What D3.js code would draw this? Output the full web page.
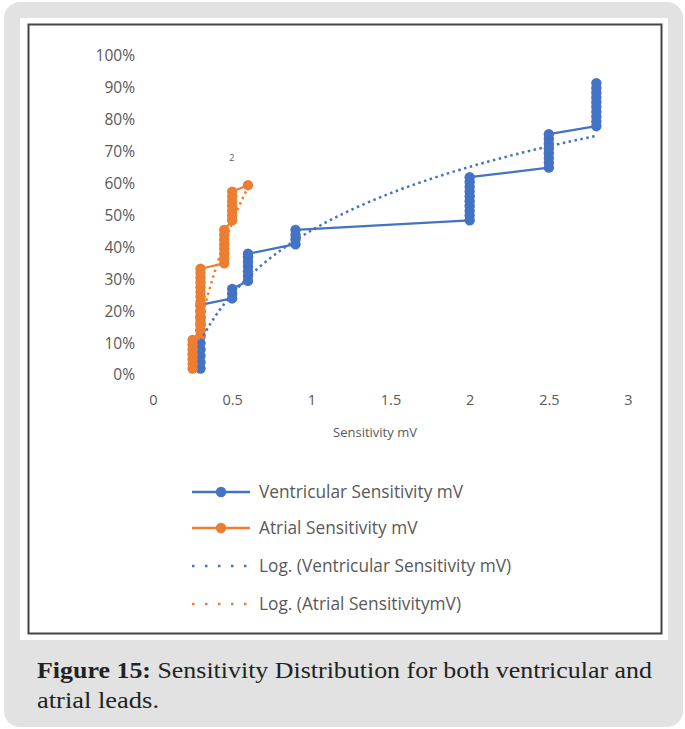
<!DOCTYPE html>
<html><head><meta charset="utf-8">
<script src="https://cdn.jsdelivr.net/npm/d3@7"></script>
<style>
html,body{margin:0;padding:0;background:#fff;}
svg{display:block;}
</style></head>
<body>
<script>
// ---- data ----
const ventX = [0.3,0.3,0.3,0.3,0.3,0.3,0.3,0.3,0.3,0.3,0.3,
               0.5,0.5,0.5,
               0.6,0.6,0.6,0.6,0.6,0.6,0.6,
               0.9,0.9,0.9,0.9,
               2,2,2,2,2,2,2,2,2,2,
               2.5,2.5,2.5,2.5,2.5,2.5,2.5,2.5,
               2.8,2.8,2.8,2.8,2.8,2.8,2.8,2.8,2.8,2.8];
const ventY = [0.02,0.04,0.06,0.08,0.10,0.12,0.14,0.16,0.18,0.20,0.22,
               0.24,0.255,0.27,
               0.295,0.31,0.325,0.34,0.355,0.37,0.38,
               0.41,0.425,0.44,0.455,
               0.485,0.50,0.515,0.53,0.545,0.56,0.575,0.59,0.605,0.62,
               0.65,0.665,0.68,0.695,0.71,0.725,0.74,0.755,
               0.78,0.795,0.81,0.825,0.84,0.855,0.87,0.885,0.90,0.915];
const atrX = [0.25,0.25,0.25,0.25,0.25,0.25,0.25,
              0.3,0.3,0.3,0.3,0.3,0.3,0.3,0.3,0.3,0.3,0.3,0.3,0.3,0.3,0.3,
              0.45,0.45,0.45,0.45,0.45,0.45,0.45,0.45,
              0.5,0.5,0.5,0.5,0.5,0.5,0.5,
              0.6];
const atrY = [0.02,0.035,0.05,0.065,0.08,0.095,0.11,
              0.125,0.14,0.155,0.17,0.185,0.20,0.215,0.23,0.245,0.26,0.275,0.29,0.305,0.32,0.333,
              0.35,0.365,0.38,0.395,0.41,0.425,0.44,0.455,
              0.485,0.50,0.515,0.53,0.545,0.56,0.575,
              0.595];
// logarithmic trendline coefficients: y = a*ln(x) + b
const ventLog = {a:0.288, b:0.453, from:0.3, to:2.8};
const atrLog  = {a:0.617, b:0.905, from:0.25, to:0.6};
const xTicks = [0,0.5,1,1.5,2,2.5,3];
const yTicks = [0,0.1,0.2,0.3,0.4,0.5,0.6,0.7,0.8,0.9,1];
const legendLabels = ["Ventricular Sensitivity mV","Atrial Sensitivity mV",
  "Log. (Ventricular Sensitivity mV)","Log. (Atrial SensitivitymV)"];
const xTitle = "Sensitivity mV";
const dataLabel = "2";
const captionBold = "Figure 15:";
const captionLines = [" Sensitivity Distribution for both ventricular and","atrial leads."];

const BLUE="#4472C4", ORANGE="#ED7D31", GREY="#595959";
const W=685,H=729;
const svg=d3.select("body").append("svg").attr("width",W).attr("height",H);

// background card
svg.append("rect").attr("x",4).attr("y",2).attr("width",679).attr("height",725)
  .attr("rx",16).attr("fill","#e2e2e2");
svg.append("rect").attr("x",20).attr("y",18).attr("width",648).attr("height",622).attr("fill","#fff");
svg.append("rect").attr("x",28.5).attr("y",24.5).attr("width",633).attr("height",609)
  .attr("fill","none").attr("stroke","#444").attr("stroke-width",2);

const x=d3.scaleLinear().domain([0,3]).range([153,628]);
const y=d3.scaleLinear().domain([0,1]).range([375,56]);
const font="'Open Sans', Lato, sans-serif";

// axes (no lines, labels only)
const yAxis=d3.axisLeft(y).tickValues(yTicks).tickFormat(d3.format(".0%")).tickSize(0).tickPadding(0);
const gy=svg.append("g").attr("transform","translate(135,0)").call(yAxis);
gy.select(".domain").remove();
gy.selectAll("text").attr("font-family",font).attr("font-size",15.5).attr("fill",GREY);
const xAxis=d3.axisBottom(x).tickValues(xTicks).tickFormat(d=>String(d)).tickSize(0).tickPadding(0);
const gx=svg.append("g").attr("transform","translate(0,395)").call(xAxis);
gx.select(".domain").remove();
gx.selectAll("text").attr("font-family",font).attr("font-size",14.5).attr("fill",GREY);

svg.append("text").attr("x",375).attr("y",437).attr("text-anchor","middle")
  .attr("font-family",font).attr("font-size",13).attr("fill",GREY).text(xTitle);

const line=d3.line().x(d=>x(d[0])).y(d=>y(d[1]));
function series(xs,ys,color){
  const pts=xs.map((v,i)=>[v,ys[i]]);
  svg.append("path").datum(pts).attr("d",line).attr("fill","none")
    .attr("stroke",color).attr("stroke-width",2.25).attr("stroke-linejoin","round");
  svg.append("g").selectAll("circle").data(pts).join("circle")
    .attr("cx",d=>x(d[0])).attr("cy",d=>y(d[1])).attr("r",5.2).attr("fill",color);
}
series(ventX,ventY,BLUE);
series(atrX,atrY,ORANGE);

function trend(t,color){
  const xs=d3.range(0,121).map(i=>t.from+(t.to-t.from)*i/120);
  const pts=xs.map(v=>[v,t.a*Math.log(v)+t.b]);
  svg.append("path").datum(pts).attr("d",line).attr("fill","none")
    .attr("stroke",color).attr("stroke-width",2.5).attr("stroke-dasharray","2.5 3.5");
}
trend(ventLog,BLUE);
trend(atrLog,ORANGE);

svg.append("text").attr("x",x(0.5)-3).attr("y",y(0.68)+3).attr("font-family",font)
  .attr("font-size",9).attr("fill",GREY).text(dataLabel);

// legend
const legY=[492,528,566,604];
const lg=svg.append("g");
[BLUE,ORANGE].forEach((c,i)=>{
  lg.append("line").attr("x1",192).attr("x2",250).attr("y1",legY[i]).attr("y2",legY[i])
    .attr("stroke",c).attr("stroke-width",2.5);
  lg.append("circle").attr("cx",221).attr("cy",legY[i]).attr("r",5.2).attr("fill",c);
});
[BLUE,ORANGE].forEach((c,i)=>{
  lg.append("line").attr("x1",192).attr("x2",252).attr("y1",legY[i+2]).attr("y2",legY[i+2])
    .attr("stroke",c).attr("stroke-width",2.5).attr("stroke-dasharray","2.5 10.5");
});
legendLabels.forEach((t,i)=>{
  lg.append("text").attr("x",259).attr("y",legY[i]+6).attr("font-family",font)
    .attr("font-size",17.3).attr("fill",GREY).text(t);
});

// caption
const cap=svg.append("text").attr("font-family","'Liberation Serif','DejaVu Serif',serif")
  .attr("font-size",22.5).attr("fill","#222");
const l1=cap.append("tspan").attr("x",37).attr("y",678)
  .attr("textLength",615).attr("lengthAdjust","spacingAndGlyphs");
l1.append("tspan").attr("font-weight","bold").text(captionBold);
l1.append("tspan").text(captionLines[0]);
cap.append("tspan").attr("x",37).attr("y",708).attr("textLength",122)
  .attr("lengthAdjust","spacingAndGlyphs").text(captionLines[1]);
</script>
</body></html>
